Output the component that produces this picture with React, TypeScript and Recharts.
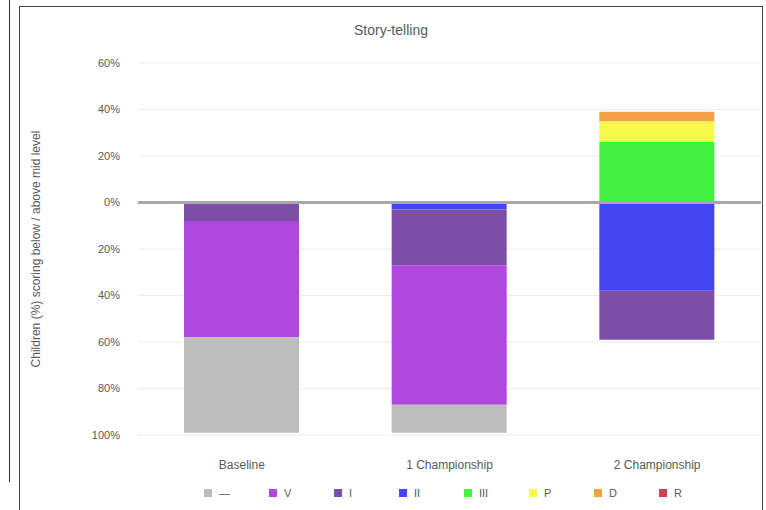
import { BarChart, Bar, XAxis, YAxis, CartesianGrid, ReferenceLine } from 'recharts'

const categories = ['Baseline', '1 Championship', '2 Championship']

// stacked from zero outward (negatives: II, I, V, gray; positives: III, P, D, R)
const seriesII = [0, -3, -38]
const seriesI = [-8, -24, -21]
const seriesV = [-50, -60, 0]
const seriesGray = [-41, -12, 0]
const seriesIII = [0, 0, 26]
const seriesP = [0, 0, 9]
const seriesD = [0, 0, 4]
const seriesR = [0, 0, 0]

const yTicks = [60, 40, 20, 0, -20, -40, -60, -80, -100]

const SERIES = [
  { key: 'II', values: seriesII, color: '#4545f2' },
  { key: 'I', values: seriesI, color: '#7d4ea6' },
  { key: 'V', values: seriesV, color: '#b048e0' },
  { key: '—', values: seriesGray, color: '#bdbdbd' },
  { key: 'III', values: seriesIII, color: '#45f045' },
  { key: 'P', values: seriesP, color: '#f8f84c' },
  { key: 'D', values: seriesD, color: '#f4a044' },
  { key: 'R', values: seriesR, color: '#d04050' },
]

const LEGEND_ORDER = ['—', 'V', 'I', 'II', 'III', 'P', 'D', 'R']

const data = categories.map((name, i) => {
  const row: { [k: string]: string | number } = { name }
  SERIES.forEach(s => { row[s.key] = s.values[i] })
  return row
})

const FONT = '"Liberation Sans", Arial, sans-serif'

const line = (left: number, top: number, width: number, height: number, color: string) => (
  <div style={{ position: 'absolute', left, top, width, height, background: color }} />
)

export default function App() {
  return (
    <div style={{ position: 'fixed', left: 0, top: 0, width: 766, height: 510, overflow: 'hidden', background: '#fff', fontFamily: FONT }}>
      {line(9, 0, 1, 482, '#333')}
      {line(19, 6, 1, 504, '#444')}
      {line(19, 6, 744, 1, '#444')}
      {line(762, 6, 1, 504, '#444')}
      <div style={{ position: 'absolute', left: 19, top: 22, width: 744, textAlign: 'center', fontSize: 14, color: '#595959' }}>
        Story-telling
      </div>
      <div style={{ position: 'absolute', left: 18, top: 5 }}>
        <BarChart
          width={744}
          height={505}
          data={data}
          stackOffset="sign"
          barSize={115}
          margin={{ top: 58, right: 1, left: 0, bottom: 45 }}
        >
          <CartesianGrid vertical={false} stroke="#ececec" />
          <XAxis
            dataKey="name"
            axisLine={false}
            tickLine={false}
            tickMargin={19}
            height={30}
            tick={{ fontSize: 12, fill: '#595959', fontFamily: FONT }}
          />
          <YAxis
            width={120}
            domain={[-100, 60]}
            ticks={yTicks}
            interval={0}
            axisLine={false}
            tickLine={false}
            tickMargin={12}
            tickFormatter={(v: number) => `${Math.abs(v)}%`}
            tick={{ fontSize: 11, fill: '#595959', fontFamily: FONT }}
            label={{
              value: 'Children (%) scoring below / above mid level',
              angle: -90,
              position: 'insideLeft',
              offset: 18,
              style: { textAnchor: 'middle', fontSize: 12, fill: '#595959', fontFamily: FONT },
            }}
          />
          {SERIES.map(s => (
            <Bar key={s.key} dataKey={s.key} stackId="a" fill={s.color} isAnimationActive={false} />
          ))}
          <ReferenceLine y={0} stroke="#a8a8a8" strokeWidth={3} />
        </BarChart>
      </div>
      <div style={{ position: 'absolute', left: 204, top: 487, display: 'flex' }}>
        {LEGEND_ORDER.map(k => {
          const s = SERIES.find(x => x.key === k)!
          return (
            <div key={k} style={{ width: 65, display: 'flex', alignItems: 'center', fontSize: 11, color: '#595959' }}>
              <span style={{ width: 8, height: 8, background: s.color, marginRight: 7, display: 'inline-block' }} />
              {k}
            </div>
          )
        })}
      </div>
    </div>
  )
}
